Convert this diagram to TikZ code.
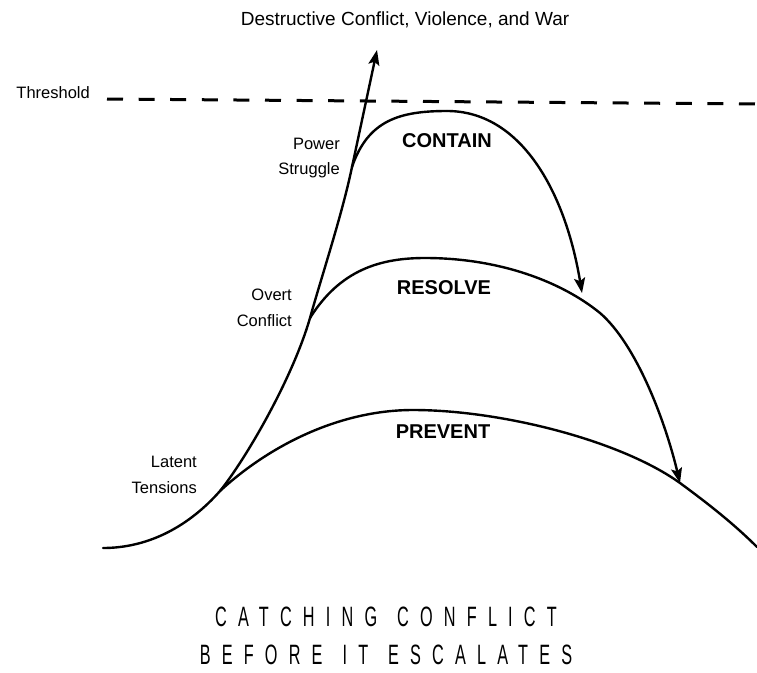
\documentclass[tikz,border=0pt]{standalone}
\usepackage{fontspec}
\setmainfont{Liberation Sans}
\newfontfamily\bannerfont[FakeStretch=0.58,LetterSpace=40]{Liberation Sans}
\usetikzlibrary{arrows.meta}
\tikzset{
  curveline/.style  = {line width=2.4pt, line cap=round},
  arrowline/.style  = {curveline, -{Stealth[length=15pt,width=11pt,inset=3pt]}},
  dashline/.style   = {line width=3pt, dash pattern=on 16pt off 15.6pt},
  stagelabel/.style = {align=right, anchor=east, inner sep=0pt,
                       font=\fontsize{16.5}{25.5}\selectfont},
  actionlabel/.style = {inner sep=0pt, font=\bfseries\fontsize{20}{24}\selectfont},
  bannerline/.style = {inner sep=0pt, font=\bannerfont\fontsize{28}{32}\selectfont}
}
\newcommand{\wordgap}{\hspace{20pt}}

\begin{document}
\begin{tikzpicture}[x=1pt,y=-1pt]
  \useasboundingbox (0,0) rectangle (757,672);
  % points on the escalation curve
  \coordinate (start)  at (103,548);
  \coordinate (latent) at (220,491);
  \coordinate (overt)  at (310,318);
  \coordinate (power)  at (352,167);
  \coordinate (war)    at (377,50);
  % tops and ends of the three arches
  \coordinate (containtop) at (447,111);
  \coordinate (containend) at (582,293);
  \coordinate (resolvetop) at (425,258);
  \coordinate (resolvemid) at (600,313);
  \coordinate (resolveend) at (680,483);
  \coordinate (preventtop) at (413,410);
  \coordinate (preventend) at (757,547);
  \coordinate (threshleft)  at (107,99);
  \coordinate (threshright) at (757,104);

  \draw[dashline] (threshleft) -- (threshright);

  \draw[curveline] (start) .. controls (150,548) and (190,525) .. (latent)
    .. controls (245,460) and (292,380) .. (overt)
    .. controls (322,275) and (342,215) .. (power);
  \draw[arrowline] (power) -- (war);

  \draw[curveline] (power) .. controls (368,120) and (400,111) .. (containtop);
  \draw[arrowline] (containtop) .. controls (520,111) and (565,190) .. (containend);

  \draw[curveline] (overt) .. controls (340,270) and (380,258) .. (resolvetop)
    .. controls (500,258) and (562,282) .. (resolvemid);
  \draw[arrowline] (resolvemid) .. controls (636,344) and (665,420) .. (resolveend);

  \draw[curveline] (latent) .. controls (270,445) and (340,410) .. (preventtop)
    .. controls (500,410) and (620,440) .. (resolveend)
    .. controls (710,505) and (735,525) .. (preventend);

  % labels
  \node[inner sep=0pt, font=\fontsize{19}{23}\selectfont] (warlabel) at (405,20)
    {Destructive Conflict, Violence, and War};
  \node[stagelabel, anchor=base east] (threshold) at (90,98) {Threshold};
  \node[stagelabel] (powerlabel)  at (340,158) {Power\\Struggle};
  \node[stagelabel] (overtlabel)  at (292,308) {Overt\\Conflict};
  \node[stagelabel] (latentlabel) at (197,475) {Latent\\Tensions};

  \node[actionlabel] (contain) at (447,141) {CONTAIN};
  \node[actionlabel] (resolve) at (444,288) {RESOLVE};
  \node[actionlabel] (prevent) at (443,432) {PREVENT};

  \node[bannerline] (bannertop) at (386,617) {CATCHING\wordgap CONFLICT};
  \node[bannerline] (bannerbottom) at (386,655) {BEFORE\wordgap IT\wordgap ESCALATES};
\end{tikzpicture}
\end{document}
